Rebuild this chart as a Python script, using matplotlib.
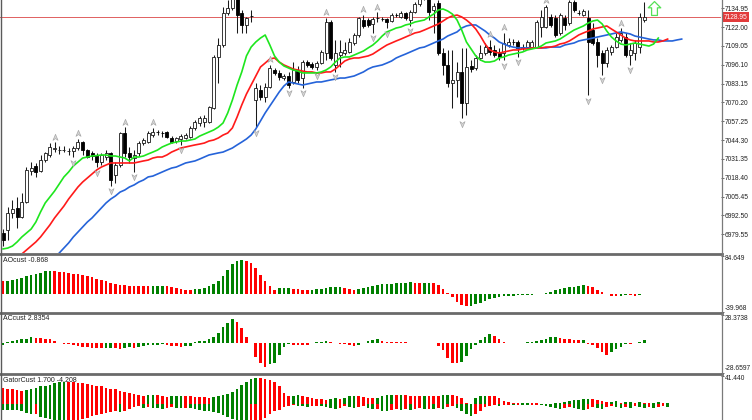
import matplotlib
matplotlib.use('Agg')
import matplotlib.pyplot as plt
from matplotlib.path import Path
from matplotlib.lines import Line2D
from matplotlib.transforms import offset_copy

plt.rcParams['font.family'] = ['Liberation Sans', 'DejaVu Sans']

# ---------------- price data (one candle per bar index) ----------------
opens = [6980.5, 6982.5, 6994.2, 6997.6, 6991.5, 7001.8, 7023.1, 7026.5, 7023.1, 7030.6,
         7034.1, 7038.2, 7037.4, 7037.5, 7036.8, 7036.8, 7038.9, 7043.0, 7037.5, 7035.5,
         7034.1, 7029.3, 7032.7, 7035.5, 7020.3, 7027.2, 7049.2, 7035.5, 7032.0, 7035.5,
         7042.3, 7043.0, 7047.8, 7049.9, 7049.2, 7049.9, 7045.8, 7043.7, 7045.1, 7045.8,
         7046.5, 7052.7, 7056.1, 7056.8, 7056.8, 7066.4, 7101.5, 7109.7, 7131.7, 7135.2,
         7142.0, 7131.7, 7123.5, 7129.7, 7071.9, 7078.8, 7074.0, 7080.8, 7092.5, 7090.5,
         7087.0, 7088.4, 7084.3, 7092.5, 7087.0, 7098.0, 7096.7, 7094.6, 7097.3, 7104.2,
         7125.5, 7096.0, 7102.8, 7104.2, 7104.9, 7111.1, 7116.6, 7126.9, 7126.9, 7124.2,
         7128.3, 7127.6, 7127.6, 7126.2, 7130.4, 7129.0, 7131.7, 7126.9, 7132.4, 7137.9,
         7142.7, 7144.8, 7133.8, 7138.6, 7104.2, 7096.0, 7083.6, 7085.7, 7091.2, 7069.8,
         7095.3, 7093.9, 7100.8, 7104.2, 7108.3, 7106.3, 7104.2, 7104.2, 7109.7, 7111.8,
         7111.8, 7107.7, 7108.3, 7108.3, 7108.3, 7122.1, 7122.1, 7129.0, 7128.3, 7118.0,
         7128.3, 7124.9, 7139.3, 7131.7, 7130.4, 7128.3, 7120.0, 7111.8, 7104.2, 7097.3,
         7104.9, 7108.3, 7113.2, 7115.2, 7102.8, 7104.2, 7108.3, 7126.9]
highs = [6983.2, 6998.3, 7003.1, 7005.2, 7008.0, 7025.8, 7029.3, 7028.6, 7034.1, 7036.1,
         7042.3, 7043.0, 7040.3, 7040.3, 7038.9, 7040.3, 7045.1, 7043.7, 7038.2, 7036.8,
         7035.5, 7035.5, 7037.5, 7036.1, 7029.3, 7049.9, 7053.3, 7039.6, 7037.5, 7043.7,
         7045.8, 7050.6, 7052.7, 7051.3, 7050.6, 7050.6, 7047.1, 7046.5, 7048.5, 7049.2,
         7054.0, 7058.1, 7060.9, 7061.6, 7067.8, 7102.8, 7114.5, 7135.8, 7140.7, 7146.2,
         7144.1, 7133.8, 7129.0, 7133.8, 7083.6, 7082.2, 7083.6, 7096.0, 7093.9, 7092.5,
         7089.8, 7091.2, 7098.0, 7095.3, 7099.4, 7099.4, 7098.0, 7098.7, 7106.3, 7128.3,
         7126.9, 7113.2, 7113.2, 7111.8, 7114.5, 7118.0, 7129.0, 7130.4, 7128.3, 7129.0,
         7132.4, 7129.0, 7128.3, 7131.7, 7131.7, 7133.1, 7132.4, 7133.8, 7139.3, 7144.8,
         7148.9, 7146.9, 7138.6, 7140.7, 7107.7, 7106.3, 7106.3, 7098.0, 7107.7, 7107.7,
         7099.4, 7102.8, 7109.7, 7111.1, 7113.2, 7109.7, 7107.7, 7118.0, 7114.5, 7113.9,
         7113.2, 7110.4, 7113.2, 7113.2, 7126.9, 7133.8, 7137.2, 7131.0, 7130.4, 7131.7,
         7130.4, 7140.7, 7140.7, 7133.8, 7134.5, 7133.8, 7124.9, 7114.5, 7106.3, 7108.3,
         7109.7, 7118.0, 7121.4, 7118.0, 7111.1, 7113.2, 7131.7, 7139.3]
lows = [6971.5, 6975.6, 6990.8, 6983.9, 6990.8, 7001.1, 7020.3, 7019.0, 7022.4, 7029.3,
        7032.7, 7036.1, 7034.8, 7036.1, 7034.1, 7032.7, 7037.5, 7034.1, 7032.0, 7030.6,
        7025.8, 7027.2, 7030.6, 7012.8, 7014.8, 7025.8, 7032.7, 7028.6, 7022.4, 7033.4,
        7041.0, 7042.3, 7046.5, 7047.8, 7046.5, 7045.8, 7042.3, 7042.3, 7041.0, 7045.1,
        7045.8, 7051.3, 7054.0, 7053.3, 7056.1, 7065.7, 7083.6, 7108.3, 7130.4, 7133.8,
        7118.0, 7118.0, 7118.0, 7125.5, 7053.3, 7071.9, 7070.5, 7080.2, 7089.1, 7085.7,
        7085.7, 7080.2, 7082.9, 7083.6, 7080.2, 7094.6, 7093.2, 7092.5, 7096.7, 7099.4,
        7099.4, 7091.2, 7094.6, 7102.8, 7104.2, 7109.7, 7115.2, 7121.4, 7122.1, 7118.0,
        7125.5, 7126.2, 7121.4, 7125.5, 7129.0, 7128.3, 7126.9, 7122.8, 7131.7, 7136.5,
        7140.7, 7126.9, 7118.0, 7102.8, 7089.1, 7080.8, 7066.4, 7074.0, 7059.5, 7061.6,
        7091.2, 7092.5, 7099.4, 7102.8, 7102.8, 7101.5, 7099.4, 7099.4, 7108.3, 7109.7,
        7101.5, 7106.3, 7107.7, 7107.7, 7107.7, 7115.2, 7121.4, 7122.1, 7115.2, 7116.6,
        7120.0, 7123.5, 7132.4, 7130.4, 7129.7, 7075.3, 7109.7, 7094.6, 7089.1, 7094.6,
        7102.8, 7107.7, 7111.8, 7101.5, 7096.0, 7099.4, 7104.2, 7125.5]
closes = [6975.6, 6994.2, 6996.9, 6991.5, 7001.8, 7023.8, 7025.1, 7022.4, 7030.6, 7035.5,
          7039.6, 7038.9, 7037.7, 7037.6, 7036.9, 7038.9, 7043.0, 7037.5, 7032.7, 7033.4,
          7029.3, 7034.1, 7035.5, 7016.9, 7027.2, 7049.2, 7035.5, 7032.7, 7034.1, 7042.3,
          7044.4, 7049.2, 7049.9, 7049.7, 7049.0, 7046.5, 7043.0, 7045.8, 7047.1, 7047.8,
          7052.7, 7056.8, 7059.5, 7059.5, 7067.1, 7101.5, 7109.7, 7131.7, 7135.2, 7142.0,
          7130.4, 7123.5, 7128.3, 7129.5, 7080.2, 7074.0, 7080.8, 7093.9, 7090.5, 7087.7,
          7088.4, 7082.2, 7092.5, 7085.7, 7098.0, 7096.0, 7094.6, 7097.3, 7104.9, 7125.5,
          7100.8, 7104.2, 7104.9, 7106.3, 7111.8, 7116.6, 7128.3, 7122.8, 7123.5, 7127.6,
          7128.2, 7127.5, 7125.5, 7130.4, 7130.3, 7131.7, 7128.3, 7132.4, 7137.9, 7142.7,
          7146.2, 7132.4, 7136.5, 7104.2, 7096.0, 7083.6, 7085.7, 7091.2, 7069.8, 7094.6,
          7093.2, 7100.8, 7104.2, 7108.3, 7104.9, 7102.8, 7101.5, 7111.1, 7111.8, 7111.7,
          7107.7, 7108.3, 7111.8, 7111.8, 7125.5, 7129.0, 7135.8, 7123.5, 7116.6, 7130.4,
          7123.5, 7139.3, 7133.8, 7131.6, 7133.1, 7111.8, 7111.1, 7102.8, 7097.3, 7106.3,
          7108.3, 7115.2, 7118.0, 7102.8, 7106.3, 7111.1, 7129.0, 7128.95]

fractal_up = [11, 16, 26, 32, 57, 69, 77, 80, 104, 107, 116, 132]
fractal_down = [15, 20, 23, 28, 38, 54, 61, 64, 67, 71, 79, 82, 87, 98, 107, 110, 125, 128, 134]
signal_bar = [139]
signal_price = [7135.0]

# ---------------- alligator (already shifted, by display bar) ----------------
lips_start = 0
lips = [6969.5, 6970.1, 6971.5, 6974.3, 6977.7, 6980.5, 6983.2, 6988.0, 6994.9, 7001.1,
        7005.2, 7009.3, 7014.1, 7019.0, 7022.4, 7026.5, 7029.3, 7032.0, 7032.7, 7033.4,
        7033.7, 7034.1, 7034.1, 7033.4, 7033.4, 7032.7, 7032.0, 7030.0, 7032.7, 7032.7,
        7033.4, 7034.8, 7036.1, 7037.5, 7039.6, 7041.0, 7042.3, 7043.0, 7043.7, 7043.7,
        7044.4, 7045.1, 7047.1, 7048.5, 7049.9, 7051.3, 7053.3, 7056.1, 7063.0, 7071.9,
        7082.2, 7091.2, 7102.2, 7108.3, 7111.8, 7114.5, 7116.6, 7109.7, 7102.2, 7098.0,
        7095.3, 7093.9, 7092.5, 7091.8, 7090.5, 7090.5, 7090.5, 7090.5, 7091.2, 7092.5,
        7094.6, 7098.0, 7100.8, 7101.5, 7101.5, 7102.8, 7104.2, 7105.6, 7107.7, 7109.7,
        7112.5, 7115.9, 7118.7, 7120.0, 7121.4, 7122.1, 7123.5, 7124.2, 7125.5, 7126.2,
        7126.9, 7129.0, 7131.0, 7133.8, 7134.5, 7133.1, 7131.0, 7126.9, 7120.0, 7111.8,
        7107.0, 7102.2, 7099.4, 7098.0, 7098.0, 7098.7, 7100.8, 7101.5, 7102.8, 7103.5,
        7104.2, 7104.9, 7106.3, 7107.0, 7107.7, 7109.0, 7111.1, 7111.8, 7112.5, 7113.8,
        7115.9, 7118.0, 7120.0, 7121.4, 7122.8, 7124.8, 7126.2, 7126.9, 7124.2, 7119.3,
        7115.2, 7112.5, 7110.4, 7109.7, 7110.4, 7111.1, 7110.4, 7109.7, 7109.0, 7110.4,
        7114.5]
teeth_start = 4
teeth = [6966.0, 6968.8, 6971.5, 6974.3, 6977.7, 6981.8,
         6986.0, 6990.8, 6994.9, 6999.0, 7003.8, 7008.0, 7012.1, 7015.5, 7018.3, 7021.0,
         7023.8, 7025.8, 7027.2, 7028.6, 7028.6, 7028.6, 7028.6, 7028.6, 7028.6, 7029.3,
         7030.0, 7030.6, 7032.0, 7032.7, 7032.7, 7034.1, 7036.1, 7037.5, 7038.9, 7039.6,
         7040.3, 7041.0, 7041.6, 7042.3, 7043.7, 7044.4, 7045.8, 7047.8, 7049.2, 7052.7,
         7060.2, 7068.5, 7076.0, 7082.2, 7088.4, 7094.6, 7097.3, 7100.1, 7100.8, 7098.0,
         7096.0, 7094.6, 7093.2, 7092.5, 7091.8, 7091.2, 7091.2, 7090.5, 7090.5, 7091.2,
         7091.2, 7093.2, 7096.0, 7098.7, 7100.1, 7100.8, 7100.8, 7101.5, 7102.2, 7103.5,
         7105.6, 7107.7, 7109.7, 7111.1, 7112.5, 7113.8, 7115.2, 7116.6, 7118.0, 7118.7,
         7120.0, 7121.4, 7122.8, 7124.2, 7126.2, 7128.3, 7129.7, 7130.3, 7129.0, 7126.9,
         7124.2, 7120.7, 7115.9, 7110.4, 7106.3, 7104.9, 7104.2, 7104.9, 7105.6, 7106.3,
         7106.3, 7107.0, 7107.0, 7107.7, 7107.7, 7107.7, 7108.3, 7108.3, 7109.0, 7110.4,
         7111.1, 7112.5, 7114.5, 7116.6, 7118.0, 7119.3, 7120.7, 7121.4, 7122.1, 7122.8,
         7120.7, 7118.7, 7116.6, 7114.5, 7113.2, 7112.5, 7112.5, 7112.5, 7112.5, 7111.8,
         7111.8, 7112.5, 7113.8]
jaw_start = 12
jaw = [6966.7, 6970.1, 6973.6, 6977.7, 6981.1, 6984.6, 6988.0, 6990.8,
       6994.2, 6997.6, 7001.1, 7003.8, 7005.9, 7008.6, 7010.0, 7012.1, 7013.5, 7015.5,
       7016.9, 7019.0, 7019.6, 7021.0, 7022.4, 7023.8, 7025.1, 7025.8, 7027.2, 7028.6,
       7029.3, 7030.0, 7031.3, 7032.7, 7034.1, 7034.8, 7035.5, 7036.1, 7037.5, 7038.9,
       7041.0, 7043.0, 7045.1, 7047.8, 7052.0, 7057.5, 7063.0, 7067.8, 7072.6, 7077.4,
       7081.5, 7084.3, 7083.6, 7082.9, 7082.2, 7082.9, 7083.6, 7084.3, 7084.3, 7085.0,
       7085.7, 7086.3, 7087.0, 7087.0, 7087.7, 7088.4, 7089.8, 7091.2, 7093.2, 7094.6,
       7095.3, 7096.0, 7097.3, 7098.7, 7100.8, 7102.2, 7103.5, 7104.9, 7106.3, 7107.7,
       7108.3, 7109.7, 7111.1, 7112.5, 7113.8, 7115.9, 7117.3, 7118.7, 7121.4, 7122.8,
       7123.5, 7123.5, 7121.4, 7119.3, 7116.6, 7114.5, 7111.8, 7110.4, 7109.0, 7108.3,
       7107.7, 7107.7, 7107.7, 7107.7, 7107.7, 7107.7, 7107.7, 7108.3, 7108.3, 7108.3,
       7109.7, 7110.4, 7111.1, 7112.5, 7113.2, 7113.8, 7114.5, 7115.2, 7115.9, 7116.6,
       7117.3, 7118.0, 7118.7, 7118.0, 7117.3, 7115.9, 7115.2, 7114.5, 7113.8, 7113.2,
       7113.2, 7112.5, 7112.5, 7112.5, 7113.2, 7113.8]

# ---------------- oscillators ----------------
ao = [27.2, 27.9, 30.9, 32.3, 34.5, 38.2, 41.9, 44.1, 46.3, 49.2,
      50.0, 49.4, 49.0, 48.5, 46.3, 44.1, 43.4, 41.2, 38.2, 36.8,
      33.1, 30.9, 27.2, 24.3, 20.6, 19.8, 18.4, 17.6, 17.3, 17.0,
      16.8, 16.5, 16.9, 17.1, 17.3, 16.2, 14.0, 11.8, 10.3, 8.8,
      8.5, 9.6, 11.0, 12.5, 16.2, 22.1, 27.2, 38.2, 51.5, 66.2,
      72.8, 75.0, 72.8, 67.6, 56.6, 41.9, 28.7, 17.6, 8.8, 11.8,
      12.5, 12.8, 11.0, 10.3, 8.1, 7.4, 8.8, 9.6, 10.3, 13.2,
      14.0, 14.5, 14.8, 13.0, 11.0, 8.8, 10.3, 11.8, 14.0, 16.2,
      19.8, 20.6, 21.3, 22.1, 23.5, 24.0, 24.3, 24.6, 24.0, 23.6,
      24.0, 24.3, 22.8, 19.0, 11.0, 1.5, -8.0, -18.0, -25.7, -28.7,
      -27.9, -24.3, -20.6, -16.9, -11.8, -9.6, -7.4, -5.9, -5.7, -4.4,
      -3.7, -3.5, -2.9, -2.2, -1.5, -0.5, 0.7, 2.9, 7.4, 10.3,
      12.5, 14.0, 14.7, 16.2, 19.8, 16.2, 14.0, 8.8, 2.9, -0.7,
      -4.4, -5.5, -4.8, -4.0, -4.3, -4.5, -2.5, -0.868]
ac = [-1.5, 1.0, 2.6, 3.3, 3.9, 4.6, 5.9, 5.6, 5.2, 4.6,
      3.9, 2.3, 0.7, -0.2, -0.7, -1.3, -2.6, -3.3, -3.9, -4.3,
      -4.6, -4.9, -4.7, -4.3, -4.9, -5.2, -4.6, -3.9, -4.3, -3.3,
      -2.6, -2.0, -1.6, -1.3, -1.0, -1.6, -2.3, -2.9, -3.3, -2.9,
      -2.3, 1.0, 2.0, 2.6, 3.9, 5.9, 10.5, 15.7, 20.3, 23.6,
      21.3, 14.8, 5.9, 0.5, -13.1, -19.7, -23.0, -20.3, -19.0, -11.5,
      -3.3, -1.0, -1.2, -1.3, -1.5, -1.7, 0.7, 1.3, 1.6, 2.0,
      1.6, 0.7, -0.7, -1.0, -2.0, -2.3, -1.6, 0.7, 2.6, 3.3,
      3.9, 2.6, 1.6, 1.5, 1.3, 1.0, 0.9, 0.3, 0.2, 0.1,
      0.2, 0.3, 0.4, -2.6, -6.6, -14.8, -19.0, -19.2, -18.0, -12.5,
      -5.9, -1.6, 3.3, 5.9, 9.2, 7.2, 3.9, 1.6, 0.7, 0.1,
      0.3, 0.7, 1.0, 1.6, 2.3, 3.3, 4.6, 5.9, 6.0, 5.2,
      4.6, 3.9, 3.3, 3.2, 3.3, -0.7, -1.6, -4.9, -8.2, -11.5,
      -8.2, -5.9, -3.3, -0.7, -1.0, 0.7, 1.3, 2.8354]
gator_up = [24.0, 22.5, 21.5, 20.5, 19.4, 20.5, 22.5, 24.0, 25.6, 26.6,
            28.1, 30.2, 31.7, 32.2, 31.7, 31.5, 31.2, 30.2, 29.2, 28.1,
            26.6, 25.6, 24.0, 22.5, 21.5, 18.9, 17.4, 16.4, 14.8, 13.3,
            12.5, 12.8, 13.3, 12.8, 11.3, 10.7, 11.3, 11.8, 12.3, 11.8,
            11.3, 10.7, 10.2, 9.7, 9.2, 10.2, 11.8, 12.8, 14.8, 17.4,
            21.5, 27.6, 32.7, 36.8, 37.9, 37.3, 36.3, 34.3, 31.7, 25.6,
            16.4, 11.3, 12.3, 12.8, 11.3, 9.7, 8.2, 7.7, 7.2, 6.6,
            7.7, 8.2, 7.2, 9.2, 11.3, 12.3, 11.3, 10.2, 9.2, 8.2,
            8.7, 11.3, 12.8, 13.3, 13.0, 13.3, 12.8, 12.3, 12.0, 11.8,
            12.3, 11.8, 11.5, 11.3, 12.8, 13.3, 12.8, 11.3, 8.7, 2.0,
            0.3, 8.7, 11.3, 12.3, 12.0, 11.3, 8.7, 5.1, 3.6, 2.0,
            1.0, 2.0, 2.1, 1.5, 1.0, 0.5, 0.2, 0.5, 1.0, 2.0,
            3.6, 5.1, 6.1, 6.2, 7.2, 7.7, 7.2, 6.1, 5.1, 3.6,
            3.7, 3.9, 2.0, 3.6, 3.8, 2.0, 3.6, 2.0, 1.0, 2.0,
            3.6, 1.0, 1.700]
gator_lo = [-8.0, -8.2, -8.4, -8.6, -10.2, -13.3, -14.3, -14.0, -18.4, -19.4,
            -22.0, -23.5, -24.6, -25.0, -24.6, -23.5, -23.3, -22.0, -19.4, -17.4,
            -15.9, -14.3, -12.8, -11.3, -10.2, -11.3, -9.2, -7.2, -4.1, -3.1,
            -5.1, -4.1, -5.1, -6.1, -7.2, -6.1, -4.1, -5.1, -6.1, -5.1,
            -6.1, -7.2, -8.2, -9.2, -10.2, -11.3, -13.3, -15.3, -18.4, -22.0,
            -24.6, -26.0, -27.0, -26.5, -25.5, -24.6, -19.4, -14.3, -10.2, -8.2,
            -4.1, -2.0, -1.0, -2.0, -3.1, -4.1, -3.1, -2.0, -3.1, -4.1,
            -5.1, -7.2, -5.1, -3.1, -4.1, -6.1, -4.1, -3.1, -5.1, -7.2,
            -6.7, -9.2, -10.2, -8.2, -7.2, -8.2, -7.2, -8.2, -7.2, -6.1,
            -7.2, -6.7, -7.2, -6.1, -7.2, -4.1, -3.1, -5.1, -9.2, -14.3,
            -16.9, -14.3, -9.2, -4.1, -2.0, -1.0, -2.0, -1.0, -0.5, -1.0,
            -0.5, -1.0, -1.5, -1.0, -0.5, -1.5, -3.1, -4.1, -5.1, -6.7,
            -5.1, -4.1, -5.1, -6.7, -8.2, -6.7, -4.1, -5.1, -6.7, -4.1,
            -3.1, -4.1, -5.1, -4.1, -5.1, -3.1, -4.1, -5.1, -4.1, -5.1,
            -4.1, -2.0, -4.208]

price_ticks = [7134.95, 7122.00, 7109.05, 7096.10, 7083.15, 7070.20, 7057.25,
               7044.30, 7031.35, 7018.40, 7005.45, 6992.50, 6979.55]
ao_range = (-39.968, 84.649)
ac_range = (-28.6597, 28.3738)
gator_top = 41.440

# ---------------- layout ----------------
W, H = 752, 420
fig = plt.figure(figsize=(W / 100, H / 100), dpi=100)
fig.patch.set_facecolor('white')
AXR = 721


def rect(top, bottom):
    return [0, 1 - bottom / H, AXR / W, (bottom - top) / H]


ax_m = fig.add_axes(rect(0, 253))
ax_ao = fig.add_axes(rect(255.5, 311.5))
ax_ac = fig.add_axes(rect(314.5, 372.5))
ax_g = fig.add_axes(rect(375.5, 420))

XL = (-0.66, 153.4)
TXT = '#202020'
for a in (ax_m, ax_ao, ax_ac, ax_g):
    a.set_xlim(*XL)
    a.set_facecolor('white')
    for s in a.spines.values():
        s.set_visible(False)
    a.set_xticks([])
    a.yaxis.set_ticks_position('right')
    a.tick_params(axis='y', length=2.0, width=0.6, color='#505050', pad=0.6,
                  labelsize=4.8, labelcolor=TXT)

# ---- main price panel ----
ax_m.set_ylim(6966.7, 7140.66)
ax_m.set_yticks(price_ticks)
ax_m.set_yticklabels(['%.2f' % v for v in price_ticks])

n = len(closes)
idx = list(range(n))
ax_m.axhline(closes[-1], color='#e06060', lw=0.7, zorder=1)
ax_m.vlines(idx, lows, highs, color='#1a1a1a', lw=0.75, zorder=2)
bull = [i for i in idx if closes[i] >= opens[i]]
bear = [i for i in idx if closes[i] < opens[i]]
ax_m.bar(bull, [max(closes[i] - opens[i], 0.05) for i in bull],
         bottom=[opens[i] for i in bull], width=0.64, color='white',
         edgecolor='#1a1a1a', linewidth=0.6, zorder=3)
ax_m.bar(bear, [opens[i] - closes[i] for i in bear],
         bottom=[closes[i] for i in bear], width=0.64, color='black',
         edgecolor='black', linewidth=0.6, zorder=3)

ax_m.plot(range(jaw_start, jaw_start + len(jaw)), jaw, color='#2563d9', lw=1.2, zorder=4)
ax_m.plot(range(teeth_start, teeth_start + len(teeth)), teeth, color='#ff1a1a', lw=1.2, zorder=5)
ax_m.plot(range(lips_start, lips_start + len(lips)), lips, color='#1ee61e', lw=1.2, zorder=6)

up_head = Path([(0, 1), (0.8, -0.9), (0, -0.35), (-0.8, -0.9), (0, 1)],
               [Path.MOVETO, Path.LINETO, Path.LINETO, Path.LINETO, Path.CLOSEPOLY])
down_head = Path([(0, -1), (0.8, 0.9), (0, 0.35), (-0.8, 0.9), (0, -1)],
                 [Path.MOVETO, Path.LINETO, Path.LINETO, Path.LINETO, Path.CLOSEPOLY])
tr_up = offset_copy(ax_m.transData, fig=fig, x=0, y=5.5, units='dots')
tr_dn = offset_copy(ax_m.transData, fig=fig, x=0, y=-5.5, units='dots')
frac_style = dict(linestyle='none', markersize=4.6, markerfacecolor='#d4d4d4',
                  markeredgecolor='#a4a4a4', markeredgewidth=0.45, zorder=7)
ax_m.plot(fractal_up, [highs[i] for i in fractal_up], marker=up_head,
          transform=tr_up, **frac_style)
ax_m.plot(fractal_down, [lows[i] for i in fractal_down], marker=down_head,
          transform=tr_dn, **frac_style)

buy_arrow = Path([(0, 1), (0.9, 0.1), (0.42, 0.1), (0.42, -1), (-0.42, -1),
                  (-0.42, 0.1), (-0.9, 0.1), (0, 1)],
                 [Path.MOVETO] + [Path.LINETO] * 6 + [Path.CLOSEPOLY])
ax_m.plot(signal_bar, signal_price, linestyle='none', marker=buy_arrow, markersize=10,
          markerfacecolor='none', markeredgecolor='#55e055', markeredgewidth=0.9, zorder=8)

ax_m.annotate('%.2f' % closes[-1], xy=(1.0, closes[-1]),
              xycoords=('axes fraction', 'data'), xytext=(2.2, 0),
              textcoords='offset points', ha='left', va='center', fontsize=4.8,
              color='white',
              bbox=dict(boxstyle='square,pad=0.2', fc='#e23b3b', ec='none'),
              annotation_clip=False, zorder=10)


# ---- histogram helpers ----
def colors(vals, first, absval=False):
    out = [first]
    for a, b in zip(vals[:-1], vals[1:]):
        if absval:
            out.append('#008000' if abs(b) > abs(a) else '#ff0000')
        else:
            out.append('#008000' if b > a else '#ff0000')
    return out


BW = 0.56
ax_ao.set_ylim(*ao_range)
ax_ao.bar(range(len(ao)), ao, width=BW, color=colors(ao, '#ff0000'), linewidth=0)
ax_ao.set_yticks(list(ao_range))
ax_ao.set_yticklabels(['%.3f' % v for v in ao_range])

ax_ac.set_ylim(*ac_range)
ax_ac.bar(range(len(ac)), ac, width=BW, color=colors(ac, '#008000'), linewidth=0)
ax_ac.set_yticks(list(ac_range))
ax_ac.set_yticklabels(['%.4f' % v for v in ac_range])

ax_g.set_ylim(-22.9, gator_top)
ax_g.bar(range(len(gator_up)), gator_up, width=BW,
         color=colors(gator_up, '#ff0000'), linewidth=0)
ax_g.bar(range(len(gator_lo)), gator_lo, width=BW,
         color=colors(gator_lo, '#008000', absval=True), linewidth=0)
ax_g.set_yticks([gator_top])
ax_g.set_yticklabels(['%.3f' % gator_top])

for a in (ax_ao, ax_ac, ax_g):
    labs = a.get_yticklabels()
    ticks = a.get_yticks()
    lo, hi = a.get_ylim()
    for t, lab in zip(ticks, labs):
        if abs(t - hi) < 1e-6:
            lab.set_va('top')
        elif abs(t - lo) < 1e-6:
            lab.set_va('bottom')

# panel captions
fig.text(3 / W, 1 - 256.5 / H, 'AOcust %.3f' % ao[-1], fontsize=5, color=TXT, va='top')
fig.text(3 / W, 1 - 315.5 / H, 'ACcust %.4f' % ac[-1], fontsize=5, color=TXT, va='top')
fig.text(3 / W, 1 - 376.5 / H, 'GatorCust %.3f %.3f' % (gator_up[-1], gator_lo[-1]),
         fontsize=5, color=TXT, va='top')

# frame lines: separators, left border and price-scale line
for yy in (254.2, 313.0, 374.0):
    fig.add_artist(Line2D([0, (AXR + 1) / W], [1 - yy / H, 1 - yy / H],
                          transform=fig.transFigure, color='#6a6a6a', lw=2.0))
fig.add_artist(Line2D([0.6 / W, 0.6 / W], [0, 1], transform=fig.transFigure,
                      color='#5a5a5a', lw=1.0))
fig.add_artist(Line2D([(AXR + 0.5) / W, (AXR + 0.5) / W], [0, 1], transform=fig.transFigure,
                      color='#7a7a7a', lw=0.9))

fig.savefig('out.png', dpi=100, facecolor='white')
